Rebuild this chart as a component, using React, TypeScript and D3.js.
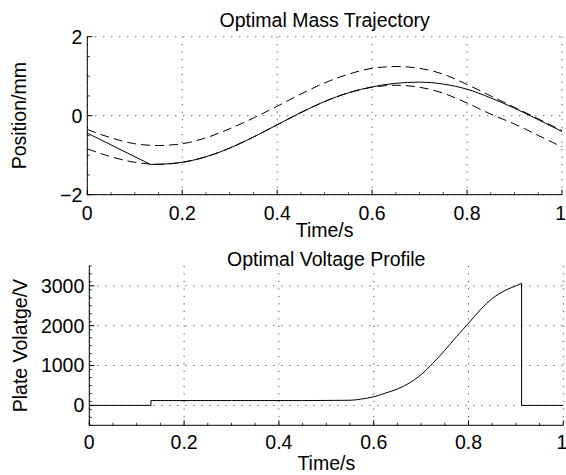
import React from 'react';
import * as d3 from 'd3';

// ---------- data ----------
const TIME_TICKS = [0, 0.2, 0.4, 0.6, 0.8, 1];
const TIME_TICK_LABELS = ['0', '0.2', '0.4', '0.6', '0.8', '1'];
const POS_TICKS = [-2, 0, 2];
const POS_TICK_LABELS = ['\u22122', '0', '2'];
const VOLT_TICKS = [0, 1000, 2000, 3000];
const VOLT_TICK_LABELS = ['0', '1000', '2000', '3000'];

const boundTime = [0, 0.05, 0.1, 0.15, 0.2, 0.25, 0.3, 0.35, 0.4, 0.45, 0.5, 0.55, 0.6, 0.65, 0.7, 0.75, 0.8, 0.85, 0.9, 0.95, 1];
const upperBound = [-0.35, -0.56, -0.71, -0.755, -0.71, -0.56, -0.33, -0.06, 0.24, 0.55, 0.83, 1.05, 1.2, 1.245, 1.2, 1.05, 0.79, 0.5, 0.21, -0.08, -0.38];
const lowerBound = [-0.84, -1.04, -1.18, -1.23, -1.18, -1.04, -0.82, -0.54, -0.23, 0.08, 0.36, 0.58, 0.72, 0.77, 0.72, 0.57, 0.32, 0.04, -0.21, -0.5, -0.79];

const massTime = [0, 0.133, 0.15, 0.2, 0.25, 0.3, 0.35, 0.4, 0.45, 0.5, 0.55, 0.6, 0.65, 0.7, 0.75, 0.8, 0.85, 0.9, 0.95, 1];
const massPos = [-0.44, -1.235, -1.23, -1.18, -1.04, -0.82, -0.54, -0.23, 0.08, 0.36, 0.58, 0.73, 0.82, 0.85, 0.8, 0.67, 0.45, 0.19, -0.1, -0.4];

const voltTime = [0, 0.13, 0.13, 0.3, 0.45, 0.55, 0.575, 0.6, 0.625, 0.65, 0.675, 0.7, 0.725, 0.75, 0.775, 0.8, 0.825, 0.85, 0.875, 0.9, 0.912, 0.912, 1];
const voltValue = [0, 0, 120, 120, 120, 128, 160, 215, 310, 410, 560, 770, 1060, 1380, 1730, 2060, 2400, 2680, 2870, 3000, 3060, 0, 0];

const FONT = '"Liberation Sans", Arial, Helvetica, sans-serif';
const FS = 19.5;

type PanelProps = {
  left: number; right: number; top: number; bottom: number;
  yDomain: [number, number];
  yTicks: number[]; yTickLabels: string[]; yMinor: number;
  title: string; titleY: number;
  ylabel: string; ylabelX: number;
  xTickBaseline: number; xLabelBaseline: number;
  children: (x: d3.ScaleLinear<number, number>, y: d3.ScaleLinear<number, number>) => React.ReactNode;
};

function Panel(p: PanelProps) {
  const x = d3.scaleLinear().domain([0, 1]).range([p.left, p.right]);
  const y = d3.scaleLinear().domain(p.yDomain).range([p.bottom, p.top]);
  const xMinor = d3.range(0, 1.0001, 0.05).filter(v => !TIME_TICKS.some(t => Math.abs(t - v) < 1e-6));
  const yMinor = d3.range(p.yDomain[0], p.yDomain[1] + 1e-6, p.yMinor).filter(v => !p.yTicks.some(t => Math.abs(t - v) < 1e-6));
  const cx = (p.left + p.right) / 2;
  const cy = (p.top + p.bottom) / 2;
  return (
    <g>
      {TIME_TICKS.map((t, i) => (
        <line key={'gx' + i} x1={x(t)} x2={x(t)} y1={p.top} y2={p.bottom} stroke="#000" strokeWidth={0.8} strokeDasharray="1,6.5" />
      ))}
      {p.yTicks.map((t, i) => (
        <line key={'gy' + i} x1={p.left} x2={p.right} y1={y(t)} y2={y(t)} stroke="#000" strokeWidth={0.8} strokeDasharray="1,7" />
      ))}
      {p.children(x, y)}
      <line x1={p.left} x2={p.right} y1={p.bottom} y2={p.bottom} stroke="#000" strokeWidth={1} />
      <line x1={p.left} x2={p.left} y1={p.top} y2={p.bottom} stroke="#000" strokeWidth={1} />
      {TIME_TICKS.map((t, i) => (
        <line key={'tx' + i} x1={x(t)} x2={x(t)} y1={p.bottom} y2={p.bottom - 5} stroke="#000" strokeWidth={1} />
      ))}
      {xMinor.map((t, i) => (
        <line key={'mx' + i} x1={x(t)} x2={x(t)} y1={p.bottom} y2={p.bottom - 2.5} stroke="#000" strokeWidth={0.8} />
      ))}
      {p.yTicks.map((t, i) => (
        <line key={'ty' + i} x1={p.left} x2={p.left + 5} y1={y(t)} y2={y(t)} stroke="#000" strokeWidth={1} />
      ))}
      {yMinor.map((t, i) => (
        <line key={'my' + i} x1={p.left} x2={p.left + 2.5} y1={y(t)} y2={y(t)} stroke="#000" strokeWidth={0.8} />
      ))}
      {TIME_TICKS.map((t, i) => (
        <text key={'lx' + i} x={x(t)} y={p.xTickBaseline} textAnchor={i === TIME_TICKS.length - 1 ? 'end' : 'middle'} dx={i === TIME_TICKS.length - 1 ? 4 : 0} fontSize={FS} fontFamily={FONT}>{TIME_TICK_LABELS[i]}</text>
      ))}
      {p.yTicks.map((t, i) => (
        <text key={'ly' + i} x={p.left - 5} y={y(t)} dy="0.35em" textAnchor="end" fontSize={FS} fontFamily={FONT}>{p.yTickLabels[i]}</text>
      ))}
      <text x={cx} y={p.titleY} textAnchor="middle" fontSize={FS} fontFamily={FONT}>{p.title}</text>
      <text x={cx} y={p.xLabelBaseline} textAnchor="middle" fontSize={FS} fontFamily={FONT}>Time/s</text>
      <text transform={`translate(${p.ylabelX},${cy}) rotate(-90)`} textAnchor="middle" fontSize={FS} fontFamily={FONT}>{p.ylabel}</text>
    </g>
  );
}

export default function App() {
  const smooth = (x: any, y: any, ts: number[], vs: number[]) =>
    d3.line<number>().x((_, i) => x(ts[i])).y((v) => y(v)).curve(d3.curveMonotoneX)(vs) || '';
  const straight = (x: any, y: any, ts: number[], vs: number[]) =>
    d3.line<number>().x((_, i) => x(ts[i])).y((v) => y(v))(vs) || '';

  return (
    <div style={{ position: 'absolute', left: 0, top: 0 }}>
      <svg width={566} height={475} style={{ display: 'block', background: '#fff' }}>
        <Panel left={87.3} right={562} top={36.7} bottom={194.7} yDomain={[-2, 2]}
          yTicks={POS_TICKS} yTickLabels={POS_TICK_LABELS} yMinor={0.5}
          title="Optimal Mass Trajectory" titleY={27}
          ylabel="Position/mm" ylabelX={26}
          xTickBaseline={220} xLabelBaseline={237}>
          {(x, y) => (
            <g fill="none" stroke="#000" strokeWidth={1}>
              <path d={smooth(x, y, boundTime, upperBound)} strokeDasharray="9,5" />
              <path d={smooth(x, y, boundTime, lowerBound)} strokeDasharray="9,5" />
              <path d={straight(x, y, massTime.slice(0, 2), massPos.slice(0, 2))} />
              <path d={smooth(x, y, massTime.slice(1), massPos.slice(1))} />
            </g>
          )}
        </Panel>
        <Panel left={89.3} right={563.3} top={265.9} bottom={425.3} yDomain={[-500, 3500]}
          yTicks={VOLT_TICKS} yTickLabels={VOLT_TICK_LABELS} yMinor={200}
          title="Optimal Voltage Profile" titleY={266}
          ylabel="Plate Volatge/V" ylabelX={27}
          xTickBaseline={449} xLabelBaseline={470}>
          {(x, y) => (
            <g fill="none" stroke="#000" strokeWidth={1}>
              <path d={straight(x, y, voltTime.slice(0, 3), voltValue.slice(0, 3))} />
              <path d={smooth(x, y, voltTime.slice(2, 21), voltValue.slice(2, 21))} />
              <path d={straight(x, y, voltTime.slice(20), voltValue.slice(20))} />
            </g>
          )}
        </Panel>
      </svg>
    </div>
  );
}
